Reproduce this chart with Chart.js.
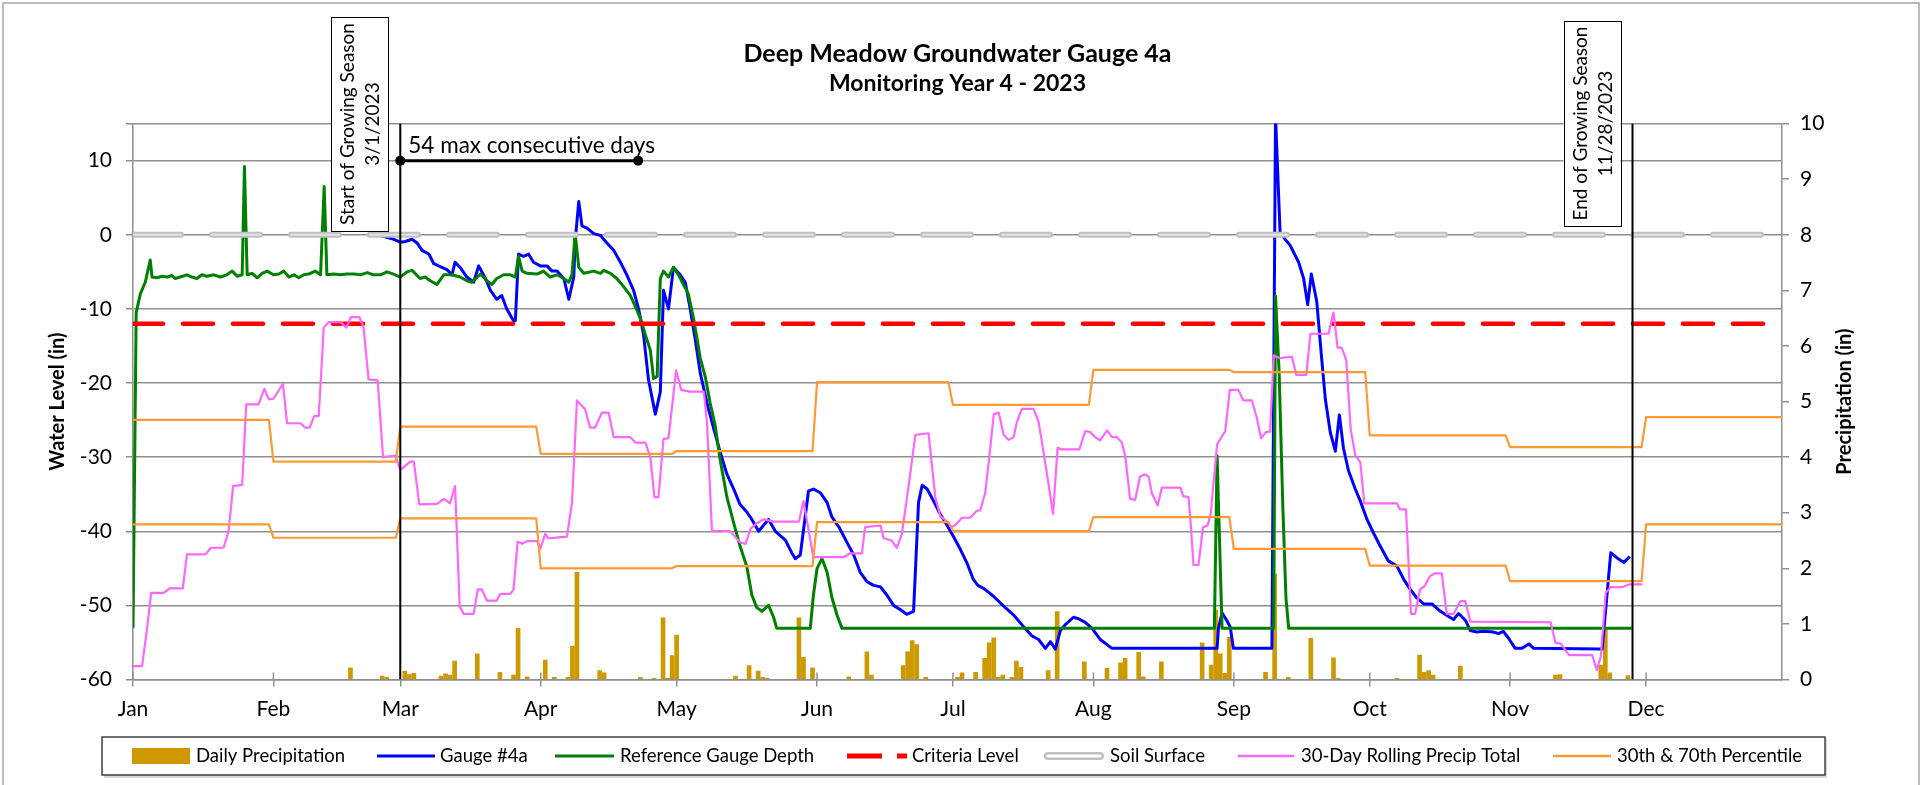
<!DOCTYPE html>
<html>
<head>
<meta charset="utf-8">
<script src="https://cdn.jsdelivr.net/npm/chart.js@4.4.1/dist/chart.umd.min.js"></script>
<style>
  html, body { margin: 0; padding: 0; background: #fff; }
  canvas { display: block; }
</style>
</head>
<body>
<canvas id="grafico" width="1929" height="785"></canvas>
<script>
// x values are day of year, 0 = Jan 1 2023
const monthNames = ['Jan', 'Feb', 'Mar', 'Apr', 'May', 'Jun', 'Jul', 'Aug', 'Sep', 'Oct', 'Nov', 'Dec'];
const monthStarts = [0, 31, 59, 90, 120, 151, 181, 212, 243, 273, 304, 334];
const levelTicks = [-60, -50, -40, -30, -20, -10, 0, 10, 15];
const precipTicks = [0, 1, 2, 3, 4, 5, 6, 7, 8, 9, 10];

const seasonStart = 59;   // 3/1/2023
const seasonEnd = 331;    // 11/28/2023
const streakStart = 59;
const streakEnd = 111.5;
const streakLevel = 10;
const criteriaLevel = -12;
const soilSurface = 0;

// Gauge #4a (in)
const gaugeDays = [47, 50, 51.7, 54.6, 57, 59, 60.1, 61.6, 62.7, 63.8, 65.3, 66.4, 67.8, 69.3, 70.4, 71.1, 72.2, 73.7, 75.2, 76.3,
  77.8, 78.9, 80.3, 81.4, 82.5, 84.0, 84.4, 85.1, 86.2, 87.3, 88.4, 89.9, 91.4, 92.5, 93.6, 95.1, 96.2, 97.3, 97.6, 98.4,
  99.1, 100.2, 101.7, 103.2, 104.6, 106.1, 107.6, 109.0, 110.5, 111.6, 112.7, 113.8, 115.3, 116.4, 117.1, 118.2, 119.3, 120.8, 121.9, 123.0,
  124.1, 125.2, 126.7, 128.2, 129.6, 131.1, 132.6, 134.0, 135.5, 136.6, 138.1, 139.2, 140.3, 141.8, 144.0, 145.5, 146.2, 147.3, 149.1, 150.2,
  151.7, 153.2, 154.3, 155.8, 157.6, 159.1, 160.5, 162.0, 163.5, 165.0, 166.4, 167.9, 169.4, 170.8, 172.3, 173.4, 174.2, 175.3, 176.7, 178.2,
  179.7, 181.1, 182.6, 184.1, 185.5, 186.5, 188.0, 190.0, 192.2, 194.4, 196.6, 198.4, 199.9, 201.4, 202.5, 203.6, 204.7, 205.8, 207.6, 208.7,
  210.2, 211.7, 213.5, 216.1, 239.3, 239.6, 240.4, 241.5, 242.2, 242.9, 251.4, 252.2, 253.2, 254.3, 255.4, 257.3, 258.4, 259.3, 260.1, 261.3,
  262.3, 263.2, 264.3, 265.4, 266.3, 267.2, 268.3, 269.8, 270.9, 272.4, 273.8, 275.3, 277.1, 279.0, 280.5, 281.9, 283.4, 284.9, 286.7, 288.6,
  290.4, 291.5, 292.6, 294.1, 295.2, 296.6, 298.1, 300.3, 301.4, 302.5, 303.6, 305.1, 306.6, 308.1, 309.2, 324.3, 326.2, 327.6, 329.1, 330.4];
const gaugeLevel = [3.0, 1.5, 0.6, -0.1, -0.5, -1.0, -0.9, -0.6, -1.1, -2.1, -2.6, -3.9, -4.3, -4.7, -5.4, -3.7, -4.4, -5.7, -6.4, -4.2,
  -5.9, -7.5, -8.7, -8.2, -10.0, -11.6, -11.6, -2.6, -2.9, -2.6, -3.7, -4.2, -4.2, -4.9, -4.9, -5.9, -8.7, -5.7, -0.9, 4.5,
  1.2, 0.9, 0.15, -0.1, -1.1, -2.1, -3.7, -5.4, -7.5, -10.0, -13.5, -19.6, -24.2, -21.2, -7.5, -10.0, -4.4, -5.4, -6.4, -10.0,
  -14.1, -18.6, -22.7, -26.2, -29.3, -32.3, -34.3, -36.4, -37.4, -38.4, -40.0, -39.2, -38.4, -40.0, -41.2, -43.0, -43.7, -43.2, -34.6, -34.3,
  -34.8, -36.1, -38.1, -39.4, -41.5, -43.2, -45.5, -46.8, -47.3, -47.5, -48.6, -50.0, -50.6, -51.2, -50.8, -36.1, -33.8, -34.3, -35.9, -37.7,
  -39.2, -40.7, -42.4, -44.3, -46.5, -47.3, -47.8, -48.8, -50.1, -51.3, -52.9, -54.1, -54.6, -55.8, -54.9, -55.9, -53.4, -52.6, -51.6, -51.8,
  -52.3, -53.1, -54.6, -55.8, -55.8, -53.1, -51.0, -52.1, -52.9, -55.8, -55.8, 16, 0.4, -0.6, -1.4, -3.7, -5.9, -9.4, -5.3, -9.0,
  -16.1, -22.2, -26.7, -29.2, -24.3, -28.8, -31.8, -34.3, -35.9, -38.4, -40.2, -42.0, -44.0, -44.7, -46.5, -47.8, -49.0, -49.8, -49.8, -50.8,
  -51.5, -51.9, -51.1, -52.0, -53.4, -53.6, -53.5, -53.6, -53.8, -53.5, -54.4, -55.8, -55.8, -55.2, -55.8, -55.9, -42.9, -43.6, -44.2, -43.4];

// Reference Gauge Depth (in)
const refDays = [0, 0.7, 1.6, 2.7, 3.8, 4.2, 5.3, 6.4, 7.5, 8.6, 9.3, 10.4, 11.9, 13.0, 14.1, 15.2, 16.3, 17.8, 19.3, 20.7,
  21.9, 23.0, 24.1, 24.6, 25.2, 26.3, 27.4, 28.5, 29.6, 31.0, 32.2, 33.3, 34.4, 35.5, 36.6, 37.7, 38.8, 40.2, 41.4, 42.2,
  42.8, 44.3, 45.8, 47.2, 48.7, 50.2, 51.7, 53.1, 54.6, 56.1, 57.5, 59.0, 60.5, 61.6, 63.4, 64.5, 65.6, 67.1, 68.6, 70.4,
  72.2, 73.7, 74.8, 76.7, 78.1, 79.2, 80.3, 81.8, 83.3, 84.4, 85.1, 85.9, 87.0, 89.2, 90.6, 92.1, 93.6, 95.1, 96.2, 96.9,
  97.6, 98.4, 99.5, 101.7, 103.2, 103.9, 105.4, 106.8, 108.3, 109.8, 110.9, 112.0, 113.1, 114.2, 114.9, 115.7, 116.4, 117.1, 118.2, 119.3,
  120.4, 121.5, 122.6, 123.8, 125.2, 126.3, 127.4, 128.5, 129.6, 131.1, 132.6, 134.0, 135.5, 136.6, 137.7, 138.8, 140.3, 141.4, 142.1, 149.5,
  150.2, 151.0, 152.1, 153.2, 154.3, 155.4, 156.5, 238.7, 239.3, 240.4, 251.8, 252.2, 253.0, 253.8, 254.5, 255.1, 330.8];
const refDepth = [-53.1, -10.5, -8.0, -6.4, -3.4, -5.7, -5.8, -5.6, -5.7, -5.5, -5.9, -5.7, -5.4, -5.7, -5.9, -5.4, -5.6, -5.4, -5.7, -5.4,
  -4.9, -5.6, -5.4, 9.2, -5.4, -5.2, -5.8, -5.2, -4.9, -5.4, -5.3, -4.9, -5.7, -5.4, -5.8, -5.4, -5.3, -4.9, -5.4, 6.5,
  -5.4, -5.3, -5.4, -5.3, -5.3, -5.4, -5.1, -5.4, -5.4, -5.0, -5.3, -5.7, -5.0, -4.8, -5.9, -5.7, -6.2, -6.7, -5.4, -5.4,
  -5.7, -6.2, -6.4, -5.3, -6.2, -6.7, -5.9, -5.4, -5.4, -5.7, -2.9, -4.9, -5.2, -5.3, -4.9, -5.7, -5.4, -5.9, -6.4, -5.4,
  0.2, -4.4, -5.2, -4.9, -5.2, -4.8, -5.2, -5.9, -7.0, -8.2, -9.7, -11.3, -13.5, -15.6, -19.4, -19.1, -5.9, -4.9, -5.7, -4.4,
  -5.4, -6.7, -8.0, -11.5, -16.6, -19.1, -22.7, -25.7, -30.3, -35.4, -38.9, -42.0, -44.8, -48.6, -50.3, -50.8, -50.0, -51.6, -53.1, -53.1,
  -48.6, -45.0, -43.7, -45.5, -49.0, -51.3, -53.1, -53.1, -29.8, -53.1, -53.1, -8.3, -18.6, -36.4, -49.0, -53.1, -53.1];

// 30-Day Rolling Precip Total (in)
const rollDays = [0, 2.0, 3.1, 4.0, 6.8, 8.1, 11.0, 11.9, 16.0, 17.2, 20.0, 21.1, 22.1, 24.1, 25.0, 27.7, 29.0, 30.0, 31.0, 33.1,
  34.0, 37.0, 38.0, 39.0, 40.0, 41.0, 42.1, 43.2, 45.8, 47.1, 48.1, 50.0, 50.9, 52.0, 54.0, 55.2, 57.9, 59.0, 61.2, 62.0,
  63.2, 67.1, 68.6, 70.0, 71.1, 72.1, 73.0, 75.2, 76.1, 77.0, 78.1, 80.3, 81.1, 83.3, 84.0, 84.9, 85.9, 87.0, 89.2, 89.9,
  91.0, 91.7, 95.8, 96.9, 98.0, 99.8, 100.9, 102.0, 103.5, 105.0, 106.1, 109.8, 110.9, 113.1, 114.2, 115.1, 116.0, 117.1, 118.2, 119.9,
  121.0, 123.0, 126.0, 126.7, 127.8, 131.8, 134.0, 135.2, 136.3, 137.7, 139.2, 141.4, 147.0, 148.0, 150.2, 156.9, 158.3, 160.9, 161.6, 165.0,
  165.7, 167.5, 168.6, 169.7, 171.2, 172.7, 175.6, 177.1, 178.2, 179.7, 180.8, 181.9, 183.0, 184.8, 186.3, 187.0, 188.1, 188.9, 190.0, 191.1,
  192.2, 193.3, 194.4, 195.1, 196.2, 198.8, 199.9, 201.0, 203.1, 204.1, 205.0, 208.9, 210.2, 211.3, 212.4, 213.5, 215.0, 216.1, 217.2, 218.3,
  219.0, 220.1, 221.2, 222.3, 223.4, 224.2, 224.9, 226.2, 227.1, 231.2, 231.8, 233.0, 233.4, 234.1, 235.2, 236.2, 237.2, 237.9, 239.3, 241.1,
  242.1, 244.0, 245.1, 247.0, 248.1, 249.0, 250.1, 251.0, 251.8, 253.2, 255.8, 256.8, 259.0, 259.9, 263.9, 265.0, 265.9, 266.8, 267.8, 268.8,
  269.8, 270.9, 271.8, 279.0, 279.7, 281.0, 282.1, 283.0, 284.1, 285.2, 286.3, 287.4, 288.9, 290.0, 291.5, 293.0, 294.1, 295.2, 312.9, 314.0,
  315.1, 317.0, 322.1, 323.1, 324.0, 325.1, 326.2, 328.7, 330.2, 333.2];
const rollTotal = [0.24, 0.24, 0.91, 1.56, 1.56, 1.64, 1.64, 2.25, 2.25, 2.37, 2.37, 2.67, 3.48, 3.50, 4.95, 4.95, 5.23, 5.04, 5.05, 5.32,
  4.61, 4.61, 4.53, 4.53, 4.74, 4.74, 6.33, 6.43, 6.43, 6.33, 6.52, 6.52, 6.33, 5.40, 5.38, 4.00, 4.03, 3.77, 3.92, 3.92,
  3.15, 3.16, 3.25, 3.17, 3.48, 1.32, 1.18, 1.18, 1.62, 1.62, 1.42, 1.42, 1.54, 1.54, 1.62, 2.48, 2.44, 2.49, 2.49, 2.35,
  2.62, 2.54, 2.57, 3.18, 5.02, 4.86, 4.53, 4.53, 4.80, 4.80, 4.36, 4.36, 4.26, 4.26, 4.00, 3.28, 3.28, 4.33, 4.34, 5.56,
  5.21, 5.18, 5.18, 4.63, 2.67, 2.67, 2.47, 2.44, 2.71, 2.81, 2.88, 2.84, 2.84, 3.21, 2.20, 2.20, 2.27, 2.27, 2.74, 2.77,
  2.54, 2.50, 2.37, 2.61, 3.48, 4.40, 4.43, 3.28, 2.94, 2.84, 2.74, 2.81, 2.91, 2.91, 3.04, 3.04, 3.35, 3.91, 4.77, 4.80,
  4.40, 4.31, 4.36, 4.63, 4.87, 4.87, 4.63, 4.09, 2.98, 4.17, 4.14, 4.14, 4.47, 4.45, 4.36, 4.30, 4.48, 4.36, 4.36, 4.26,
  4.03, 3.25, 3.23, 3.65, 3.69, 3.65, 3.35, 3.13, 3.45, 3.45, 3.30, 3.28, 2.88, 2.06, 2.06, 2.74, 2.77, 2.98, 4.23, 4.47,
  5.21, 5.21, 5.02, 5.02, 4.70, 4.34, 4.45, 4.46, 5.83, 5.78, 5.81, 5.48, 5.48, 6.22, 6.22, 6.60, 5.97, 5.97, 5.75, 4.50,
  4.03, 3.91, 3.17, 3.17, 3.06, 3.06, 1.18, 1.18, 1.62, 1.69, 1.86, 1.91, 1.91, 1.18, 1.18, 1.41, 1.41, 1.04, 1.03, 0.66,
  0.65, 0.44, 0.44, 0.17, 0.41, 1.56, 1.66, 1.66, 1.71, 1.71];

// 30th & 70th percentile of 30-day precip, one value per month (in)
const pct70 = [4.67, 3.92, 4.55, 4.06, 4.11, 5.35, 4.94, 5.57, 5.53, 4.39, 4.18, 4.72];
const pct30 = [2.79, 2.55, 2.90, 2.00, 2.04, 2.83, 2.67, 2.92, 2.35, 2.05, 1.77, 2.79];

// Daily Precipitation (in)
const precipDays = [48, 55, 56, 60, 61, 62, 68, 69, 70, 71, 76, 81, 84, 85, 87, 91, 93, 96, 97, 98,
  103, 104, 112, 115, 117, 118, 119, 120, 133, 136, 138, 139, 140, 147, 148, 150, 158, 162, 163, 170,
  171, 172, 173, 175, 182, 183, 186, 188, 189, 190, 191, 192, 194, 195, 196, 202, 204, 210, 215, 218,
  219, 222, 223, 227, 236, 238, 239, 240, 241, 242, 250, 252, 255, 260, 265, 266, 279, 284, 285, 286,
  287, 293, 314, 315, 324, 325, 326, 330];
const precipAmount = [0.21, 0.06, 0.04, 0.15, 0.09, 0.11, 0.06, 0.10, 0.08, 0.33, 0.46, 0.13, 0.08, 0.92, 0.05, 0.35, 0.04, 0.04, 0.60, 1.93,
  0.16, 0.12, 0.04, 0.02, 1.11, 0.02, 0.43, 0.80, 0.06, 0.25, 0.15, 0.04, 0.02, 1.11, 0.40, 0.21, 0.05, 0.50, 0.08, 0.25,
  0.50, 0.70, 0.63, 0.04, 0.04, 0.12, 0.13, 0.38, 0.66, 0.75, 0.04, 0.08, 0.04, 0.33, 0.22, 0.16, 1.22, 0.32, 0.20, 0.30,
  0.38, 0.49, 0.05, 0.32, 0.66, 0.26, 1.25, 0.46, 0.11, 0.76, 0.13, 1.90, 0.04, 0.74, 0.39, 0.02, 0.02, 0.44, 0.13, 0.16,
  0.08, 0.24, 0.08, 0.09, 0.26, 0.90, 0.12, 0.07];

const pts = (xs, ys) => xs.map((x, i) => ({x: x, y: ys[i]}));
const monthly = vals => monthStarts.flatMap((d, i) => [
  {x: d, y: vals[i]},
  {x: (i < monthStarts.length - 1 ? monthStarts[i + 1] : 365) - 1, y: vals[i]}
]);

const GRID = '#8f8f8f';
const FONT = 'Lato';
Chart.defaults.font.family = FONT;
Chart.defaults.color = '#000';

const lineBase = {type: 'line', pointRadius: 0, fill: false, tension: 0, borderJoinStyle: 'round'};

const decor = {
  id: 'decor',
  beforeDatasetsDraw(chart) {
    const {ctx, chartArea, scales} = chart;
    // month tick marks also poke into the plot
    ctx.save();
    ctx.strokeStyle = GRID;
    ctx.lineWidth = 1.5;
    monthStarts.forEach(d => {
      const px = scales.x.getPixelForValue(d);
      ctx.beginPath();
      ctx.moveTo(px, chartArea.bottom - 7);
      ctx.lineTo(px, chartArea.bottom);
      ctx.stroke();
    });
    ctx.restore();
  },
  afterDatasetsDraw(chart) {
    const {ctx, scales} = chart;
    const box = (day, top, bottom, lines) => {
      const lineX = scales.x.getPixelForValue(day);
      const left = lineX - 69, right = lineX - 12;
      ctx.save();
      ctx.fillStyle = '#fff';
      ctx.fillRect(left, top, right - left, bottom - top);
      ctx.strokeStyle = '#000';
      ctx.lineWidth = 1;
      ctx.strokeRect(Math.round(left) + 0.5, top + 0.5, Math.round(right - left), bottom - top);
      ctx.fillStyle = '#000';
      ctx.font = '19px ' + FONT;
      ctx.textAlign = 'center';
      ctx.textBaseline = 'middle';
      lines.forEach((t, i) => {
        ctx.save();
        ctx.translate(left + 17 + i * 25, (top + bottom) / 2);
        ctx.rotate(-Math.PI / 2);
        ctx.fillText(t, 0, 0);
        ctx.restore();
      });
      ctx.restore();
    };
    box(seasonStart, 17, 231, ['Start of Growing Season', '3/1/2023']);
    box(seasonEnd, 21, 226, ['End of Growing Season', '11/28/2023']);

    ctx.save();
    ctx.fillStyle = '#000';
    ctx.font = '22.5px ' + FONT;
    ctx.textBaseline = 'alphabetic';
    ctx.fillText('54 max consecutive days', scales.x.getPixelForValue(streakStart) + 8,
      scales.y.getPixelForValue(streakLevel) - 8);
    ctx.restore();
  },
  afterDraw(chart) {
    const {ctx, chartArea} = chart;
    ctx.save();
    // outer frame
    ctx.strokeStyle = '#a6a6a6';
    ctx.lineWidth = 1.5;
    ctx.strokeRect(3, 3, 1916, 800);

    // right axis title
    ctx.fillStyle = '#000';
    ctx.font = 'bold 20px ' + FONT;
    ctx.textAlign = 'center';
    ctx.textBaseline = 'middle';
    ctx.translate(1845, (chartArea.top + chartArea.bottom) / 2);
    ctx.rotate(-Math.PI / 2);
    ctx.fillText('Precipitation (in)', 0, 0);
    ctx.restore();

    // legend
    ctx.save();
    ctx.fillStyle = '#d9d9d9';
    ctx.fillRect(104, 739, 1723, 39);
    ctx.fillStyle = '#fff';
    ctx.fillRect(102, 737, 1723, 38);
    ctx.strokeStyle = '#404040';
    ctx.lineWidth = 1.5;
    ctx.strokeRect(102, 737, 1723, 38);
    const cy = 756;
    const items = [
      {label: 'Daily Precipitation', x1: 132, x2: 190, tx: 196},
      {label: 'Gauge #4a', x1: 377, x2: 435, tx: 440, color: '#0000ff', w: 3},
      {label: 'Reference Gauge Depth', x1: 555, x2: 614, tx: 620, color: '#008000', w: 3},
      {label: 'Criteria Level', x1: 847, x2: 907, tx: 912, color: '#ff0000', w: 5, dash: [35, 15]},
      {label: 'Soil Surface', x1: 1048, x2: 1100, tx: 1110, soil: true},
      {label: '30-Day Rolling Precip Total', x1: 1238, x2: 1294, tx: 1301, color: '#ff66ff', w: 2.5},
      {label: '30th & 70th Percentile', x1: 1553, x2: 1611, tx: 1617, color: '#ff9933', w: 2.5}
    ];
    items.forEach(it => {
      if (it.soil) {
        ctx.lineCap = 'round';
        ctx.strokeStyle = '#c0c0c0';
        ctx.lineWidth = 8;
        ctx.beginPath(); ctx.moveTo(it.x1, cy); ctx.lineTo(it.x2, cy); ctx.stroke();
        ctx.strokeStyle = '#fff';
        ctx.lineWidth = 3;
        ctx.beginPath(); ctx.moveTo(it.x1, cy); ctx.lineTo(it.x2, cy); ctx.stroke();
        ctx.lineCap = 'butt';
      } else if (!it.color) {
        ctx.fillStyle = '#cc9900';
        ctx.fillRect(it.x1, cy - 8, it.x2 - it.x1, 16);
      } else {
        ctx.strokeStyle = it.color;
        ctx.lineWidth = it.w;
        ctx.setLineDash(it.dash || []);
        ctx.beginPath(); ctx.moveTo(it.x1, cy); ctx.lineTo(it.x2, cy); ctx.stroke();
        ctx.setLineDash([]);
      }
      ctx.fillStyle = '#000';
      ctx.font = '18.5px ' + FONT;
      ctx.textBaseline = 'middle';
      ctx.textAlign = 'left';
      ctx.fillText(it.label, it.tx, cy);
    });
    ctx.restore();
  }
};

new Chart(document.getElementById('grafico').getContext('2d'), {
  type: 'line',
  data: {
    datasets: [
      {...lineBase, data: [{x: seasonStart, y: -60}, {x: seasonStart, y: 15}], borderColor: '#000', borderWidth: 2, order: 0},
      {...lineBase, data: [{x: seasonEnd, y: -60}, {x: seasonEnd, y: 15}], borderColor: '#000', borderWidth: 2, order: 0},
      {...lineBase, data: [{x: streakStart, y: streakLevel}, {x: streakEnd, y: streakLevel}], borderColor: '#000', borderWidth: 3,
        pointRadius: 5, pointBackgroundColor: '#000', pointBorderWidth: 0, order: 0},
      {...lineBase, label: '30th & 70th Percentile', data: monthly(pct70), yAxisID: 'y2', borderColor: '#ff9933', borderWidth: 2.2, order: 1},
      {...lineBase, label: '30th & 70th Percentile', data: monthly(pct30), yAxisID: 'y2', borderColor: '#ff9933', borderWidth: 2.2, order: 1},
      {...lineBase, label: '30-Day Rolling Precip Total', data: pts(rollDays, rollTotal), yAxisID: 'y2', borderColor: '#ff66ff', borderWidth: 2.2, order: 2},
      {...lineBase, label: 'Soil Surface', data: [{x: 0, y: soilSurface}, {x: 364, y: soilSurface}], borderColor: '#e2e2e2',
        borderWidth: 2, borderDash: [48, 31], borderCapStyle: 'round', order: 2.5},
      {...lineBase, label: 'Soil Surface', data: [{x: 0, y: soilSurface}, {x: 364, y: soilSurface}], borderColor: '#c0c0c0',
        borderWidth: 6, borderDash: [48, 31], borderCapStyle: 'round', order: 3},
      {...lineBase, label: 'Criteria Level', data: [{x: 0, y: criteriaLevel}, {x: 364, y: criteriaLevel}], borderColor: '#ff0000',
        borderWidth: 4.5, borderDash: [30, 20], borderCapStyle: 'round', order: 4},
      {...lineBase, label: 'Reference Gauge Depth', data: pts(refDays, refDepth), borderColor: '#008000', borderWidth: 3, order: 5},
      {...lineBase, label: 'Gauge #4a', data: pts(gaugeDays, gaugeLevel), borderColor: '#0000ff', borderWidth: 3, clip: 0, order: 6},
      {type: 'bar', label: 'Daily Precipitation', data: pts(precipDays, precipAmount), yAxisID: 'y2',
        backgroundColor: '#cc9900', barThickness: 4, order: 7}
    ]
  },
  options: {
    responsive: false,
    devicePixelRatio: 1,
    animation: false,
    layout: {padding: 0},
    plugins: {
      legend: {display: false},
      tooltip: {enabled: false},
      title: {
        display: true, fullSize: false,
        text: 'Deep Meadow Groundwater Gauge 4a',
        font: {size: 25, weight: 'bold'},
        padding: {top: 39, bottom: 0}
      },
      subtitle: {
        display: true, fullSize: false,
        text: 'Monitoring Year 4 - 2023',
        color: '#000',
        font: {size: 23, weight: 'bold'},
        padding: {top: 1, bottom: 26}
      }
    },
    scales: {
      x: {
        type: 'linear', min: 0, max: 364, offset: false,
        afterBuildTicks: s => { s.ticks = monthStarts.map(v => ({value: v})); },
        afterFit: s => { s.height = 105.5; },
        ticks: {callback: (v, i) => monthNames[i], font: {size: 21}, padding: 10, maxRotation: 0, autoSkip: false},
        grid: {offset: false, drawOnChartArea: false, tickLength: 7, color: GRID, lineWidth: 1.5},
        border: {color: GRID, width: 1.5}
      },
      y: {
        position: 'left', min: -60, max: 15,
        afterBuildTicks: s => { s.ticks = levelTicks.map(v => ({value: v})); },
        afterFit: s => { s.width = 133; },
        ticks: {callback: v => (v === 15 ? '' : v), font: {size: 21}, padding: 14},
        grid: {color: GRID, lineWidth: 1.5, tickLength: 7},
        border: {color: GRID, width: 1.5},
        title: {display: true, text: 'Water Level (in)', font: {size: 20, weight: 'bold'}, padding: {top: 46, bottom: 0}}
      },
      y2: {
        position: 'right', min: 0, max: 10,
        afterBuildTicks: s => { s.ticks = precipTicks.map(v => ({value: v})); },
        afterFit: s => { s.width = 147; },
        ticks: {font: {size: 21}, padding: 11},
        grid: {drawOnChartArea: false, color: GRID, lineWidth: 1.5, tickLength: 7},
        border: {color: GRID, width: 1.5}
      }
    }
  },
  plugins: [decor]
});
</script>
</body>
</html>
